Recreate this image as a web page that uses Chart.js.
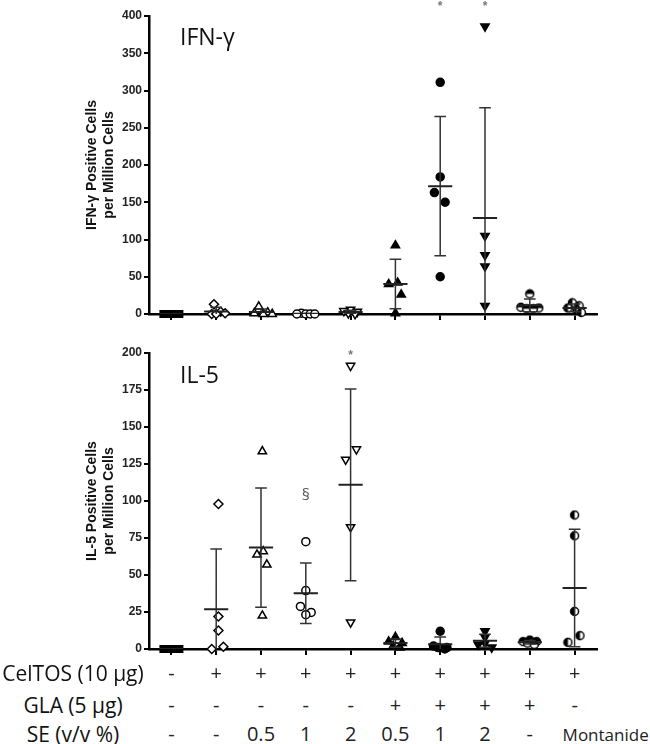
<!DOCTYPE html>
<html>
<head>
<meta charset="utf-8">
<script src="https://cdn.jsdelivr.net/npm/chart.js@4.4.0/dist/chart.umd.min.js"></script>
<style>
  html, body { margin: 0; padding: 0; background: #fff; }
  #wrap { position: relative; width: 650px; height: 744px; overflow: hidden; }
  #wrap canvas { position: absolute; left: 0; }
  #topChart { top: 0; }
  #bottomChart { top: 330px; }
  .panelTitle { position: absolute; left: 180px; font-family: "Open Sans", sans-serif; font-size: 23px; line-height: 1; color: #111; }
  .cell { position: absolute; font-family: "Open Sans", sans-serif; font-size: 20px; line-height: 1; color: #222; white-space: nowrap; transform: translate(-50%, -50%); }
</style>
</head>
<body>
<div id="wrap">
  <canvas id="topChart" width="650" height="330"></canvas>
  <canvas id="bottomChart" width="650" height="330"></canvas>
  <div class="panelTitle" style="top:25px">IFN-γ</div>
  <div class="panelTitle" style="top:363px">IL-5</div>
  <div id="table"></div>
</div>
<script>
// groups on the x axis (one column per vaccine formulation)
const groups = [1, 2, 3, 4, 5, 6, 7, 8, 9, 10];

// IFN-γ positive cells per million cells, 5 animals per group
const ifnValues = [
    [0, 0, 0, 0, 0],
    [13, 3, 1, 0, 0],
    [10, 2, 1, 0, 0],
    [1, 0, 0, 0, 0],
    [6, 4, 3, 1, 0],
    [92, 42, 40, 26, 1],
    [311, 184, 163, 150, 50],
    [386, 105, 79, 64, 11],
    [27, 9, 8, 7, 7],
    [15, 11, 8, 5, 2]
];
// horizontal spread of the dots inside a column
const ifnSpread = [
    [-0.18, -0.09, 0, 0.09, 0.18],
    [-0.05, 0.1, 0.2, -0.1, 0],
    [-0.05, 0.15, -0.15, 0.05, 0.25],
    [-0.1, -0.2, 0, 0.1, 0.2],
    [0, -0.15, 0.15, -0.05, 0.1],
    [0, 0.05, -0.15, 0.13, 0],
    [0, 0, -0.13, 0.11, 0],
    [0, 0, 0, 0, 0],
    [0, -0.2, 0.2, -0.07, 0.08],
    [-0.05, 0.1, -0.15, 0.05, 0.15]
];
const ifnTicks = [0, 50, 100, 150, 200, 250, 300, 350, 400];
const ifnMarks = [
    { group: 7, value: 417, text: "*" },
    { group: 8, value: 417, text: "*" }
];

// IL-5 positive cells per million cells
const il5Values = [
    [0, 0, 0, 0, 0],
    [98, 22, 12.5, 1.5, 0],
    [133.5, 66, 63.7, 57, 22.5],
    [72.5, 39.5, 28.8, 24.7, 23.2],
    [191.4, 135, 128, 82.4, 18],
    [8, 5, 4, 2, 1],
    [12, 2, 1, 1, 0],
    [12, 8, 4, 3, 1],
    [6, 5, 5, 4, 3],
    [90.5, 76.5, 25.4, 9, 4.5]
];
const il5Spread = [
    [-0.18, -0.09, 0, 0.09, 0.18],
    [0.05, 0.05, 0.05, 0.16, -0.1],
    [0.03, 0.05, -0.09, 0.13, 0.03],
    [0, 0, -0.12, 0.12, 0],
    [0, 0.13, -0.11, 0, 0],
    [0, -0.15, 0.15, -0.05, 0.1],
    [0, -0.15, 0.15, -0.05, 0.1],
    [0, 0, 0, -0.15, 0.15],
    [0, -0.15, 0.15, -0.05, 0.1],
    [0, 0, 0, 0.12, -0.15]
];
const il5Ticks = [0, 25, 50, 75, 100, 125, 150, 175, 200];
const il5Marks = [
    { group: 4, value: 104, text: "§" },
    { group: 5, value: 200.5, text: "*" }
];

// formulation table under the plots
const rowLabels = ["CelTOS (10 µg)", "GLA (5 µg)", "SE (v/v %)"];
const celtosRow = ["-", "+", "+", "+", "+", "+", "+", "+", "+", "+"];
const glaRow = ["-", "-", "-", "-", "-", "+", "+", "+", "+", "-"];
const seRow = ["-", "-", "0.5", "1", "2", "0.5", "1", "2", "-", "Montanide"];

// marker per group (same in both panels)
function halfCircle(topHalf) {
    const c = document.createElement("canvas");
    c.width = 11; c.height = 11;
    const g = c.getContext("2d");
    g.fillStyle = "#fff";
    g.beginPath(); g.arc(5.5, 5.5, 4, 0, Math.PI * 2); g.fill();
    g.fillStyle = "#000";
    g.beginPath();
    if (topHalf) g.arc(5.5, 5.5, 4, Math.PI, 0);
    else g.arc(5.5, 5.5, 4, Math.PI / 2, Math.PI * 1.5);
    g.closePath(); g.fill();
    g.strokeStyle = "#000"; g.lineWidth = 1.5;
    g.beginPath(); g.arc(5.5, 5.5, 4, 0, Math.PI * 2); g.stroke();
    return c;
}
const markerStyle = ["rect", "rectRot", "triangle", "circle", "triangle", "triangle", "circle", "triangle", halfCircle(true), halfCircle(false)];
const markerFilled = [true, false, false, false, false, true, true, true, true, true];
const markerRotation = [0, 0, 0, 0, 180, 0, 0, 180, 0, 0];
const markerRadius = [4.5, 4.5, 4.8, 4, 4.8, 4.8, 4, 4.8, 4, 4];

function meanSd(vals) {
    const mean = vals.reduce((a, b) => a + b, 0) / vals.length;
    const sd = Math.sqrt(vals.reduce((a, b) => a + (b - mean) * (b - mean), 0) / (vals.length - 1));
    return { mean, sd };
}

function buildDatasets(values, spread) {
    const meanLine = [];
    const errorBars = [];
    groups.forEach((g, i) => {
        const s = meanSd(values[i]);
        meanLine.push({ x: g - 0.27, y: s.mean }, { x: g + 0.27, y: s.mean }, { x: g, y: null });
        errorBars.push({ x: g, y: s.mean - s.sd }, { x: g, y: s.mean + s.sd }, { x: g, y: null });
        errorBars.push({ x: g - 0.13, y: s.mean + s.sd }, { x: g + 0.13, y: s.mean + s.sd }, { x: g, y: null });
        errorBars.push({ x: g - 0.13, y: s.mean - s.sd }, { x: g + 0.13, y: s.mean - s.sd }, { x: g, y: null });
    });
    const sets = [
        { data: meanLine, showLine: true, spanGaps: false, borderColor: "#222", borderWidth: 2, pointRadius: 0 },
        { data: errorBars, showLine: true, spanGaps: false, borderColor: "#333", borderWidth: 1.5, pointRadius: 0 }
    ];
    groups.forEach((g, i) => {
        sets.push({
            data: values[i].map((v, j) => ({ x: g + spread[i][j], y: v })),
            pointStyle: markerStyle[i],
            pointRotation: markerRotation[i],
            pointRadius: markerRadius[i],
            pointBackgroundColor: markerFilled[i] ? "#000" : "#fff",
            pointBorderColor: "#000",
            pointBorderWidth: 1.5,
            clip: false
        });
    });
    return sets;
}

// draws the * and § notes above the columns, and the two-line y title
const notePlugin = {
    id: "notes",
    afterDatasetsDraw(chart, args, opts) {
        const ctx = chart.ctx;
        const area = chart.chartArea;
        ctx.save();
        ctx.textAlign = "center";
        ctx.textBaseline = "middle";
        opts.items.forEach(m => {
            const x = chart.scales.x.getPixelForValue(m.group);
            const y = chart.scales.y.getPixelForValue(m.value);
            if (m.text === "§") {
                ctx.fillStyle = "#555";
                ctx.font = "16px 'Open Sans'";
                ctx.fillText(m.text, x, y);
            } else {
                ctx.fillStyle = "#777";
                ctx.font = "bold 12px 'Liberation Sans'";
                ctx.fillText(m.text, x, y + 3);
            }
        });
        // axis title
        ctx.translate(0, (area.top + area.bottom) / 2);
        ctx.rotate(-Math.PI / 2);
        ctx.fillStyle = "#111";
        ctx.font = "bold 14px 'Liberation Sans'";
        opts.title.forEach((line, i) => ctx.fillText(line, 0, 92 + i * 17));
        ctx.restore();
    }
};

function makeChart(id, values, spread, ticks, marks, title, padTop, padBottom) {
    const tickFont = { family: "'Liberation Sans', Arial", weight: "bold", size: 12 };
    return new Chart(document.getElementById(id), {
        type: "scatter",
        data: { datasets: buildDatasets(values, spread) },
        plugins: [notePlugin],
        options: {
            responsive: false,
            animation: false,
            layout: { padding: { left: 82, right: 53, top: padTop, bottom: padBottom } },
            plugins: {
                legend: { display: false },
                tooltip: { enabled: false },
                notes: { items: marks, title: title }
            },
            scales: {
                x: {
                    type: "linear",
                    min: 0.5,
                    max: 10.5,
                    afterBuildTicks: axis => { axis.ticks = groups.map(v => ({ value: v })); },
                    afterFit: scale => { scale.height = 8; },
                    ticks: { display: false },
                    grid: { drawOnChartArea: false, drawTicks: true, tickLength: 6, color: "#000", lineWidth: 2 },
                    border: { display: true, color: "#000", width: 2.5 }
                },
                y: {
                    min: ticks[0],
                    max: ticks[ticks.length - 1],
                    afterBuildTicks: axis => { axis.ticks = ticks.map(v => ({ value: v })); },
                    afterFit: scale => { scale.width = 67; },
                    ticks: { font: tickFont, color: "#222", padding: 2 },
                    grid: { drawOnChartArea: false, drawTicks: true, tickLength: 5, color: "#000", lineWidth: 2 },
                    border: { display: true, color: "#000", width: 2.5 }
                }
            }
        }
    });
}

const topChart = makeChart("topChart", ifnValues, ifnSpread, ifnTicks, ifnMarks,
    ["IFN-γ Positive Cells", "per Million Cells"], 16, 8);
const bottomChart = makeChart("bottomChart", il5Values, il5Spread, il5Ticks, il5Marks,
    ["IL-5 Positive Cells", "per Million Cells"], 23, 3);

// formulation table, columns lined up with the x scale
const table = document.getElementById("table");
const rowY = [673, 705, 734];
[celtosRow, glaRow, seRow].forEach((row, r) => {
    const label = document.createElement("div");
    label.className = "cell";
    label.textContent = rowLabels[r];
    label.style.left = "73px";
    label.style.top = rowY[r] + "px";
    label.style.color = "#111";
    label.style.fontSize = "21px";
    table.appendChild(label);
    row.forEach((txt, i) => {
        const d = document.createElement("div");
        d.className = "cell";
        d.textContent = txt;
        d.style.left = bottomChart.scales.x.getPixelForValue(groups[i]) + "px";
        d.style.top = rowY[r] + "px";
        if (txt.length > 3) {
            d.style.transform = "translate(-12px, -50%)";
            d.style.fontSize = "17px";
        }
        table.appendChild(d);
    });
});
</script>
</body>
</html>
